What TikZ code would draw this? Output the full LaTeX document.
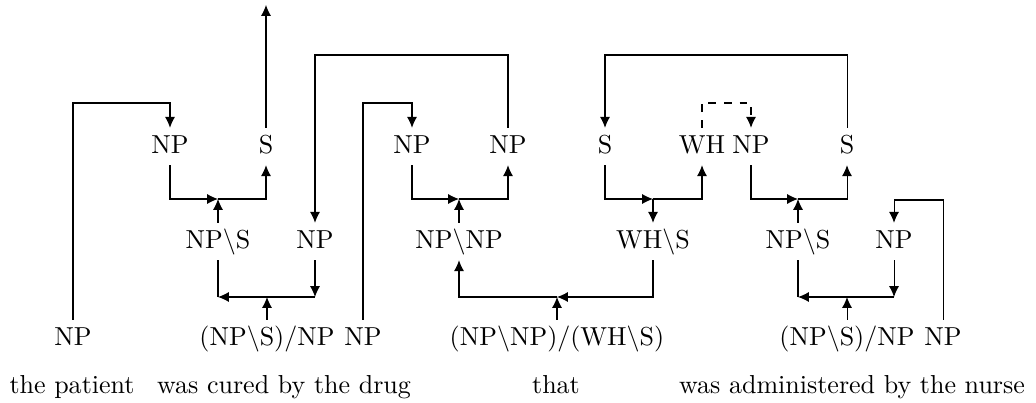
\documentclass[tikz,border=0pt]{standalone}
\usetikzlibrary{arrows.meta}
\begin{document}
\begin{tikzpicture}[x=0.3846pt,y=-0.3846pt,
  cat/.style={anchor=base,inner sep=2pt,text height=7.5pt,text depth=2.5pt},
  word/.style={anchor=base,inner sep=0pt},
  arr/.style={-{Latex[length=4.2pt,width=3.9pt]}},
  line width=0.4pt]
\useasboundingbox (0,0) rectangle (1036,402);
% helper heights
\coordinate (h1) at (0,103);
\coordinate (h2) at (0,55);
\coordinate (h3) at (0,200);
% top row
\node[cat] (NPa) at (170,153) {NP};
\node[cat] (Sa)  at (266,153) {S};
\node[cat] (NPb) at (412,153) {NP};
\node[cat] (NPc) at (508,153) {NP};
\node[cat] (Sb)  at (605,153) {S};
\node[cat] (WH)  at (702,153) {WH};
\node[cat] (NPd) at (751,153) {NP};
\node[cat] (Sc)  at (847,153) {S};
% middle row
\node[cat] (NPSa) at (218,248) {NP$\backslash$S};
\node[cat] (NPm1) at (315,248) {NP};
\node[cat] (NPNP) at (459,248) {NP$\backslash$NP};
\node[cat] (WHS)  at (653,248) {WH$\backslash$S};
\node[cat] (NPSb) at (798,248) {NP$\backslash$S};
\node[cat] (NPm2) at (894,248) {NP};
% bottom row
\node[cat] (NP0) at (73,345) {NP};
\node[cat] (V1)  at (267,345) {(NP$\backslash$S)/NP};
\node[cat] (NP1) at (363,345) {NP};
\node[cat] (TH)  at (557,345) {(NP$\backslash$NP)/(WH$\backslash$S)};
\node[cat] (V2)  at (847,345) {(NP$\backslash$S)/NP};
\node[cat] (NP2) at (943,345) {NP};
% words
\node[word] (w1) at (72,393) {the patient};
\node[word] (w2) at (284,393) {was cured by the drug};
\node[word] (w3) at (556,393) {that};
\node[word] (w4) at (852,393) {was administered by the nurse};
% junctions
\coordinate (ja) at (218,199);
\coordinate (jb) at (267,297);
\coordinate (jc) at (459,199);
\coordinate (jd) at (557,297);
\coordinate (je) at (653,199);
\coordinate (jf) at (798,199);
\coordinate (jg) at (847,297);
\coordinate (top) at (266,5);
% first clause
\draw[arr] (Sa.north) -- (top);
\draw[arr] (NP0.north) -- (NP0.north |- h1) -| (NPa.north);
\draw[arr] (NPa.south) |- (ja);
\draw[arr] (ja) -| (Sa.south);
\draw[arr] (NPSa.north) -- (ja);
\draw[arr] (V1.north) -- (jb);
\draw[arr] (NPm1.south) -- (NPm1.south |- jb);
\draw (NPm1.south |- jb) -- (jb);
\draw[arr] (jb) -- (NPSa.south |- jb);
\draw (NPSa.south |- jb) -- (NPSa.south);
% relative clause head
\draw[arr] (NPc.north) -- (NPc.north |- h2) -| (NPm1.north);
\draw[arr] (NP1.north) -- (NP1.north |- h1) -| (NPb.north);
\draw[arr] (NPb.south) |- (jc);
\draw[arr] (jc) -| (NPc.south);
\draw[arr] (NPNP.north) -- (jc);
\draw[arr] (TH.north) -- (jd);
\draw[arr] (WHS.south) |- (jd);
\draw[arr] (jd) -| (NPNP.south);
% WH part
\draw[arr] (Sb.south) |- (je);
\draw[arr] (je) -| (WH.south);
\draw[arr] (je) -- (WHS.north);
\draw[arr,dashed] (WH.north) -- (WH.north |- h1) -| (NPd.north);
\draw[arr] (Sc.north) -- (Sc.north |- h2) -| (Sb.north);
% second clause
\draw[arr] (NPd.south) |- (jf);
\draw[arr] (jf) -| (Sc.south);
\draw[arr] (NPSb.north) -- (jf);
\draw[arr] (V2.north) -- (jg);
\draw[arr] (NPm2.south) -- (NPm2.south |- jg);
\draw (NPm2.south |- jg) -- (jg);
\draw[arr] (jg) -- (NPSb.south |- jg);
\draw (NPSb.south |- jg) -- (NPSb.south);
\draw[arr] (NP2.north) -- (NP2.north |- h3) -| (NPm2.north);
\end{tikzpicture}
\end{document}
